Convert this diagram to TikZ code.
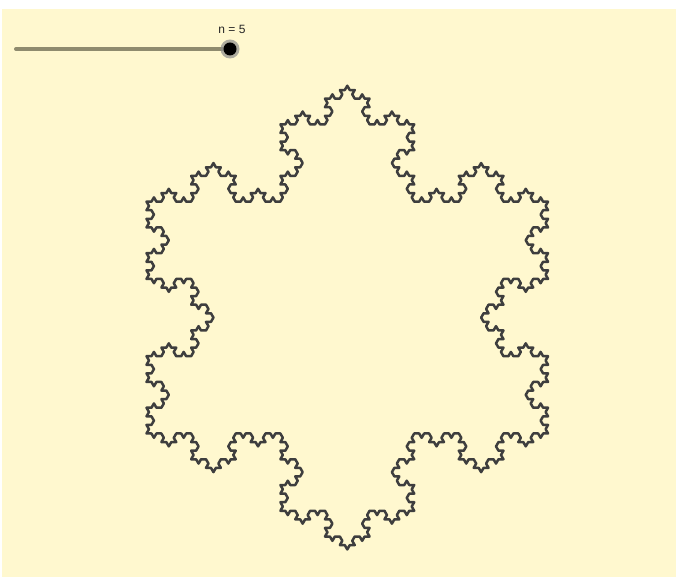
\documentclass[tikz,border=0pt]{standalone}
\usepackage{fontspec}
\newfontfamily\uifont{Liberation Sans}
\usetikzlibrary{lindenmayersystems}
\pgfdeclarelindenmayersystem{Koch curve}{\rule{F -> F-F++F-F}}
\definecolor{bgyellow}{RGB}{255,248,207}
\definecolor{curvegray}{RGB}{62,62,62}
\definecolor{tracktone}{RGB}{143,139,110}
\tikzset{
  snowflake/.style={draw=curvegray, line width=2.5pt, line join=round},
  track/.style={draw=tracktone, line width=4pt, line cap=round},
  knobhalo/.style={fill=black!45, opacity=0.7},
  knob/.style={fill=black},
  sliderlabel/.style={font=\uifont\fontsize{12}{14}\selectfont, text=black!85, inner sep=0pt}
}
\begin{document}
\begin{tikzpicture}[x=1pt,y=1pt]
\useasboundingbox (0,0) rectangle (676,577);
\fill[white] (0,0) rectangle (676,577);
\fill[bgyellow] (2,0) rectangle (676,568);
% slider
\coordinate (trackstart) at (16,528);
\coordinate (knobpos) at (230,528);
\draw[track] (trackstart) -- (knobpos);
\fill[knobhalo] (knobpos) circle (9.5);
\fill[knob] (knobpos) circle (6.5);
\node[sliderlabel] (nlabel) at (232,548) {n = 5};
% Koch snowflake
\begin{scope}[shift={(146.5,143.5)}]
\coordinate (kstart) at (0,0);
\draw[snowflake, l-system={Koch curve, axiom=F++F++F, order=4, angle=60, step=4.9575pt}]
  (kstart) lindenmayer system -- cycle;
\end{scope}
\end{tikzpicture}
\end{document}
